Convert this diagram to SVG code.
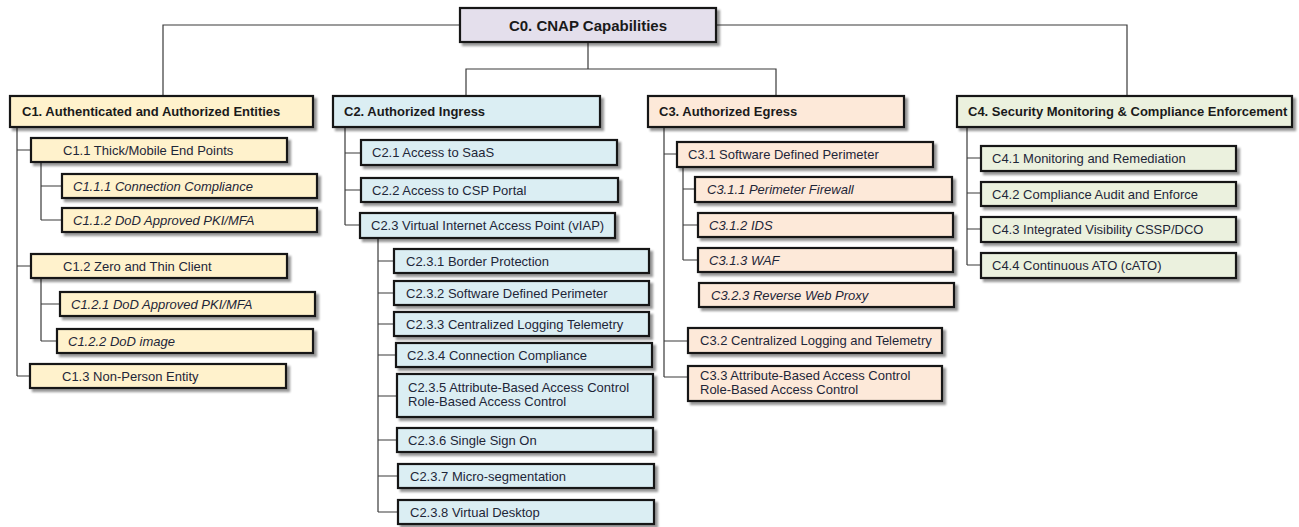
<svg xmlns="http://www.w3.org/2000/svg" width="1299" height="527" viewBox="0 0 1299 527">
<defs>
<filter id="sh" x="-5%" y="-20%" width="115%" height="160%">
<feDropShadow dx="3" dy="3" stdDeviation="1.3" flood-color="#000" flood-opacity="0.4"/>
</filter>
<style>
rect{stroke:#141414;stroke-width:2.2;filter:url(#sh)}
.p{fill:#E4DFEC}.y{fill:#FFF2CC}.b{fill:#DBEEF3}.o{fill:#FDE9D9}.g{fill:#EBF1DE}
text{font-family:"Liberation Sans",Arial,sans-serif;font-size:13px;fill:#1E2638}
.h{font-weight:bold;fill:#1a1a1a}
.t{font-size:15px;font-weight:bold;fill:#1a1a1a}
.i{font-style:italic}
#connectors path{fill:none;stroke:#3a3a3a;stroke-width:1.2}
</style>
</defs>
<rect width="1299" height="527" style="fill:#fff;stroke:none;filter:none"/>
<g id="connectors">
<path d="M460 25H163V96M716 25H1127V96M588 42V69M466 96V69H776V96"/>
<path d="M17 127V376M17 150H31M17 266H31M17 376H30M41 162V220M41 186H62M41 220H62M41 278V341M41 304H60M41 341H57"/>
<path d="M345 127V225M345 153H361M345 190H361M345 225H360M378 238V512M378 261H394M378 293H394M378 324H394M378 355H396M378 396H397M378 440H397M378 476H398M378 512H398"/>
<path d="M664 128V377M664 154H677M664 341H688M664 377H688M683 167V260M683 189H695M683 225H698M683 260H698"/>
<path d="M967 128V265M967 158H981M967 193H981M967 229H981M967 265H981"/>
</g>
<g id="C0"><rect class="p" x="460" y="8" width="256" height="34"/><text class="t" x="588" y="30.5" text-anchor="middle">C0. CNAP Capabilities</text></g>
<g id="C1"><rect class="y" x="10" y="96" width="303" height="31"/><text class="h" x="22" y="116">C1. Authenticated and Authorized Entities</text></g>
<g id="C2"><rect class="b" x="333" y="96" width="267" height="31"/><text class="h" x="344" y="116">C2. Authorized Ingress</text></g>
<g id="C3"><rect class="o" x="648" y="96" width="256" height="31"/><text class="h" x="659" y="116">C3. Authorized Egress</text></g>
<g id="C4"><rect class="g" x="957" y="96" width="335" height="31"/><text class="h" x="968" y="116">C4. Security Monitoring &amp; Compliance Enforcement</text></g>

<g id="C1.1"><rect class="y" x="31" y="138" width="256" height="24"/><text x="63" y="155">C1.1 Thick/Mobile End Points</text></g>
<g id="C1.1.1"><rect class="y" x="62" y="174" width="255" height="24"/><text class="i" x="73" y="191">C1.1.1 Connection Compliance</text></g>
<g id="C1.1.2"><rect class="y" x="62" y="208" width="255" height="24"/><text class="i" x="73" y="225">C1.1.2 DoD Approved PKI/MFA</text></g>
<g id="C1.2"><rect class="y" x="31" y="254" width="256" height="24"/><text x="63" y="271">C1.2 Zero and Thin Client</text></g>
<g id="C1.2.1"><rect class="y" x="60" y="292" width="255" height="24"/><text class="i" x="71" y="309">C1.2.1 DoD Approved PKI/MFA</text></g>
<g id="C1.2.2"><rect class="y" x="57" y="329" width="256" height="24"/><text class="i" x="68" y="346">C1.2.2 DoD image</text></g>
<g id="C1.3"><rect class="y" x="30" y="364" width="256" height="24"/><text x="62" y="381">C1.3 Non-Person Entity</text></g>

<g id="C2.1"><rect class="b" x="361" y="140" width="256" height="25"/><text x="372" y="157">C2.1 Access to SaaS</text></g>
<g id="C2.2"><rect class="b" x="361" y="178" width="257" height="24"/><text x="372" y="195">C2.2 Access to CSP Portal</text></g>
<g id="C2.3"><rect class="b" x="360" y="213" width="255" height="25"/><text x="371" y="230">C2.3 Virtual Internet Access Point (vIAP)</text></g>
<g id="C2.3.1"><rect class="b" x="394" y="249" width="255" height="24"/><text x="406" y="266">C2.3.1 Border Protection</text></g>
<g id="C2.3.2"><rect class="b" x="394" y="281" width="255" height="24"/><text x="406" y="298">C2.3.2 Software Defined Perimeter</text></g>
<g id="C2.3.3"><rect class="b" x="394" y="312" width="255" height="24"/><text x="406" y="329">C2.3.3 Centralized Logging Telemetry</text></g>
<g id="C2.3.4"><rect class="b" x="396" y="343" width="256" height="24"/><text x="407" y="360">C2.3.4 Connection Compliance</text></g>
<g id="C2.3.5"><rect class="b" x="397" y="374" width="256" height="43"/><text x="408" y="392">C2.3.5 Attribute-Based Access Control</text><text x="408" y="406">Role-Based Access Control</text></g>
<g id="C2.3.6"><rect class="b" x="397" y="428" width="256" height="24"/><text x="408" y="445">C2.3.6 Single Sign On</text></g>
<g id="C2.3.7"><rect class="b" x="398" y="464" width="256" height="24"/><text x="410" y="481">C2.3.7 Micro-segmentation</text></g>
<g id="C2.3.8"><rect class="b" x="398" y="500" width="256" height="24"/><text x="410" y="517">C2.3.8 Virtual Desktop</text></g>

<g id="C3.1"><rect class="o" x="677" y="142" width="256" height="25"/><text x="688" y="159">C3.1 Software Defined Perimeter</text></g>
<g id="C3.1.1"><rect class="o" x="695" y="177" width="257" height="25"/><text class="i" x="707" y="194">C3.1.1 Perimeter Firewall</text></g>
<g id="C3.1.2"><rect class="o" x="698" y="213" width="255" height="24"/><text class="i" x="709" y="230">C3.1.2 IDS</text></g>
<g id="C3.1.3"><rect class="o" x="698" y="248" width="255" height="24"/><text class="i" x="709" y="265">C3.1.3 WAF</text></g>
<g id="C3.2.3"><rect class="o" x="699" y="283" width="255" height="24"/><text class="i" x="711" y="300">C3.2.3 Reverse Web Proxy</text></g>
<g id="C3.2"><rect class="o" x="688" y="328" width="254" height="25"/><text x="700" y="345">C3.2 Centralized Logging and Telemetry</text></g>
<g id="C3.3"><rect class="o" x="688" y="366" width="254" height="35"/><text x="700" y="380">C3.3 Attribute-Based Access Control</text><text x="700" y="394">Role-Based Access Control</text></g>

<g id="C4.1"><rect class="g" x="981" y="146" width="255" height="25"/><text x="992" y="163">C4.1 Monitoring and Remediation</text></g>
<g id="C4.2"><rect class="g" x="981" y="182" width="255" height="24"/><text x="992" y="199">C4.2 Compliance Audit and Enforce</text></g>
<g id="C4.3"><rect class="g" x="981" y="217" width="255" height="25"/><text x="992" y="234">C4.3 Integrated Visibility CSSP/DCO</text></g>
<g id="C4.4"><rect class="g" x="981" y="253" width="255" height="25"/><text x="992" y="270">C4.4 Continuous ATO (cATO)</text></g>
</svg>
